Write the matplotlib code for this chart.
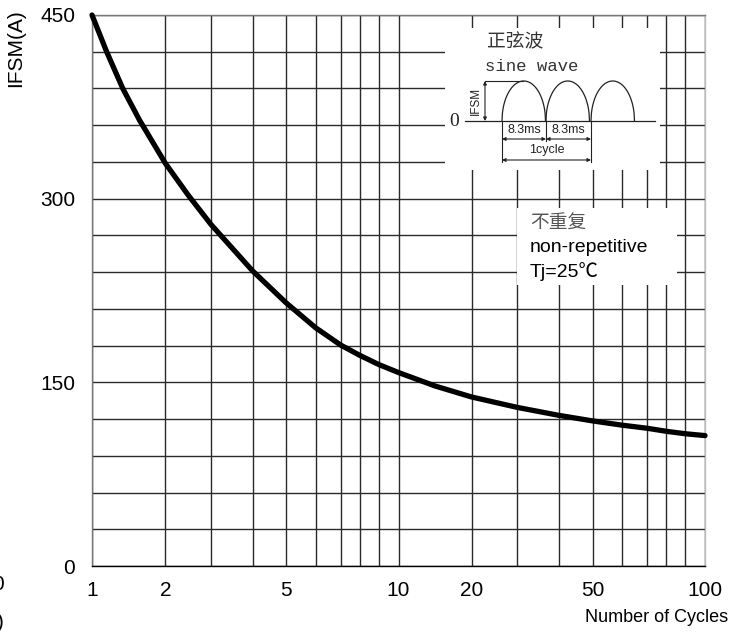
import numpy as np
import matplotlib
matplotlib.use("Agg")
import matplotlib.pyplot as plt
from matplotlib.ticker import FixedLocator, NullFormatter

# ---------------- data ----------------
cycles = [1, 1.2, 1.42, 1.65, 2, 2.5, 3, 4, 5, 6, 7, 8, 9, 10,
          15, 20, 30, 40, 50, 60, 70, 80, 90, 100]
ifsm = [450, 420, 390, 364, 329, 303, 279, 241, 215, 194.5, 180.5, 172, 164.5, 158,
        147, 138, 129.5, 123, 118.5, 115, 112.5, 110, 108, 106.5]

x_major = [1, 2, 5, 10, 20, 50, 100]
x_major_labels = ["1", "2", "5", "10", "20", "50", "100"]
x_minor = [3, 4, 6, 7, 8, 9, 30, 40, 60, 70, 80, 90]
y_major = [0, 150, 300, 450]
y_major_labels = ["0", "150", "300", "450"]
y_minor = [30, 60, 90, 120, 180, 210, 240, 270, 330, 360, 390, 420]

title = "Maximum Surge Forward Current Capability"
xlabel = "Number of Cycles"
ylabel = "IFSM(A)"

# printed chart paper: spacing of 1..10 inside one decade (fraction of decade)
MANT = np.array([1, 2, 3, 4, 5, 6, 7, 8, 9, 10], float)
FRAC = np.array([0, .239, .388, .524, .633, .730, .811, .874, .936, 1.0])


def fwd(x):
    x = np.asarray(x, float)
    out = np.full(x.shape, np.nan)
    ok = x > 0
    xv = x[ok]
    d = np.floor(np.log10(xv) + 1e-12)
    m = xv / 10.0 ** d
    out[ok] = d + np.interp(m, MANT, FRAC)
    return out


def inv(y):
    y = np.asarray(y, float)
    d = np.floor(y + 1e-12)
    f = y - d
    return np.interp(f, FRAC, MANT) * 10.0 ** d


plt.rcParams['font.family'] = ['Liberation Sans', 'DejaVu Sans']

W, H = 750, 634
fig = plt.figure(figsize=(7.5, 6.34), dpi=100)


def fx(px):
    return px / W


def fy(py):
    return 1 - py / H


ax = fig.add_axes([fx(92), fy(566), fx(705) - fx(92), fy(15) - fy(566)])
ax.set_xscale('function', functions=(fwd, inv))
ax.set_xlim(1, 100)
ax.set_ylim(0, 450)

ax.xaxis.set_major_locator(FixedLocator(x_major))
ax.xaxis.set_minor_locator(FixedLocator(x_minor))
ax.set_xticklabels(x_major_labels)
ax.xaxis.set_minor_formatter(NullFormatter())
ax.yaxis.set_major_locator(FixedLocator(y_major))
ax.yaxis.set_minor_locator(FixedLocator(y_minor))
ax.set_yticklabels(y_major_labels)

ax.tick_params(which='both', length=0)
ax.tick_params(axis='x', pad=11, labelsize=15)
ax.tick_params(axis='y', pad=12, labelsize=15)
ax.grid(which='both', color='#2a2a2a', lw=1.0)
ax.set_axisbelow(True)

ax.spines['left'].set_color('#777777')
ax.spines['top'].set_color('#777777')
ax.spines['right'].set_color('#bbbbbb')
ax.spines['bottom'].set_color('black')
for s in ax.spines.values():
    s.set_linewidth(1.0)

ax.plot(cycles, ifsm, color='black', lw=3.8, solid_capstyle='round',
        solid_joinstyle='round', clip_on=False, zorder=5)

# axis texts
fig.text(fx(15.5), fy(48), ylabel, rotation=90, ha='center', va='center', size=15)
fig.text(fx(728), fy(617), xlabel, ha='right', va='center', size=13)
fig.text(fx(138), 1 + 5 / H, title, ha='left', va='baseline', size=15.5,
         weight='bold')
# fragments cut at the left edge
fig.text(fx(4), fy(585), "0", ha='right', va='center', size=15)
fig.text(fx(4), fy(623), ")", ha='right', va='center', size=15)

# ---------------- inset 1: sine wave sketch ----------------
bx0, by0, bx1, by1 = 445, 28, 660, 170
ins = fig.add_axes([fx(bx0), fy(by1), fx(bx1) - fx(bx0), fy(by0) - fy(by1)])
ins.set_facecolor('white')
ins.set_xlim(0, bx1 - bx0)
ins.set_ylim(by1 - by0, 0)
ins.set_xticks([])
ins.set_yticks([])
for s in ins.spines.values():
    s.set_visible(False)

ink = '#222222'
ins.text(42, 14, "正弦波", family=['Noto Sans CJK SC'], size=13.5, color='#333333',
         ha='left', va='center')
ins.text(40, 38.5, "sine wave", family=['Liberation Mono'], size=12.5, color='#333333',
         ha='left', va='center')
base = 93
ins.plot([20, 210], [base, base], color=ink, lw=0.9)
ins.text(9, base, "0", family=['Liberation Serif'], size=14, ha='center',
         va='center', color=ink)
starts = [57, 101, 146]
hw = 43.5
t = np.linspace(0, 1, 100)
for s0 in starts:
    ins.plot(s0 + hw * t, base - 40 * np.sqrt(np.clip(1 - (2 * t - 1) ** 2, 0, 1)),
             color=ink, lw=0.9)
# IFSM dimension
ins.plot([40, 78], [53, 53], color=ink, lw=0.8)
ins.annotate('', xy=(40, 53), xytext=(40, base),
             arrowprops=dict(arrowstyle='<|-|>', lw=0.8, color=ink,
                             mutation_scale=5, shrinkA=0, shrinkB=0))
ins.text(31, 73, "IFSM", rotation=90, size=8.5, ha='center', va='center', color=ink)
# tick lines
ins.plot([57, 57], [base, 134], color=ink, lw=0.8)
ins.plot([146, 146], [base, 134], color=ink, lw=0.8)
ins.plot([101, 101], [base, 113], color=ink, lw=0.8)
for a, b in [(57, 101), (101, 146)]:
    ins.annotate('', xy=(a, 111), xytext=(b, 111),
                 arrowprops=dict(arrowstyle='<|-|>', lw=0.8, color=ink,
                                 mutation_scale=5, shrinkA=0, shrinkB=0))
    ins.text((a + b) / 2, 102, "8.3ms", size=9, ha='center', va='center', color=ink)
ins.annotate('', xy=(57, 132), xytext=(146, 132),
             arrowprops=dict(arrowstyle='<|-|>', lw=0.8, color=ink,
                             mutation_scale=5, shrinkA=0, shrinkB=0))
ins.text(101.5, 122, "1cycle", size=9, ha='center', va='center', color=ink)

# ---------------- inset 2: conditions ----------------
cx0, cy0, cx1, cy1 = 517, 208, 677, 285
cnd = fig.add_axes([fx(cx0), fy(cy1), fx(cx1) - fx(cx0), fy(cy0) - fy(cy1)])
cnd.set_facecolor('white')
cnd.set_xlim(0, cx1 - cx0)
cnd.set_ylim(cy1 - cy0, 0)
cnd.set_xticks([])
cnd.set_yticks([])
for s in cnd.spines.values():
    s.set_visible(False)
cnd.text(13, 15.5, "不重复", family=['Noto Sans CJK SC'], size=13.5, color='#555555',
         ha='left', va='center')
cnd.text(13, 39.5, "non-repetitive", size=14, color='black', ha='left', va='center')
cnd.text(13, 63.5, "Tj=25℃", family=['Liberation Sans', 'Noto Sans CJK SC'], size=14,
         color='black', ha='left', va='center')

fig.savefig("out.png", dpi=100)
